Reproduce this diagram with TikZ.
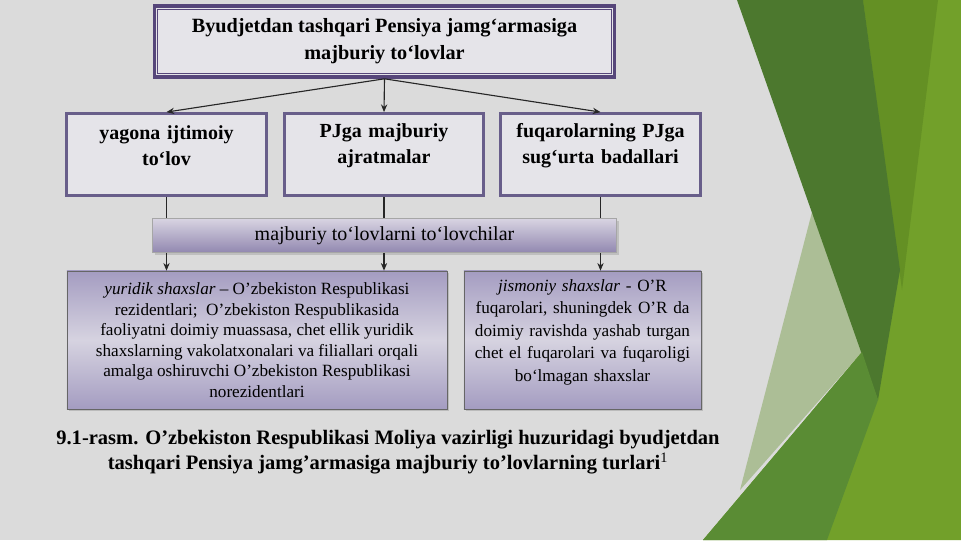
\documentclass[tikz,border=0pt]{standalone}
\usepackage{fontspec}
\setmainfont{Liberation Serif}
\usepackage{xcolor}
\usepackage{tikz}
\usetikzlibrary{
    positioning,
    arrows.meta,
    calc,
    shadows
}
\definecolor{slideGray}{RGB}{219, 219, 219}
\definecolor{boxFill}{RGB}{229, 228, 233}
\definecolor{frameViolet}{RGB}{86, 70, 122}
\definecolor{rowViolet}{RGB}{104, 94, 138}
\definecolor{barTop}{RGB}{216, 212, 226}
\definecolor{barBottom}{RGB}{146, 136, 176}
\definecolor{noteInner}{RGB}{214, 211, 224}
\definecolor{noteEdge}{RGB}{164, 156, 193}
\definecolor{leafDark}{RGB}{76, 120, 46}
\definecolor{leafOlive}{RGB}{100, 144, 36}
\definecolor{leafBright}{RGB}{114, 160, 42}
\definecolor{leafMid}{RGB}{90, 140, 52}
\definecolor{leafPale}{RGB}{172, 190, 150}

\begin{document}
\begin{tikzpicture}[x=0.025cm, y=-0.025cm, >={Stealth[length=5.5pt, width=4.5pt]},
        headbox/.style={draw=frameViolet, line width=2.4pt, fill=boxFill,
            minimum width=11.5cm, minimum height=1.78cm, align=center,
            font=\fontsize{14.4}{19}\selectfont\bfseries},
        rowbox/.style={draw=rowViolet, line width=2pt, fill=boxFill,
            minimum width=4.9cm, minimum height=2.05cm, text width=4.75cm, align=center,
            font=\fontsize{14.2}{18.4}\selectfont\bfseries, lift=13pt},
        notebox/.style={draw=gray!80!black, top color=noteEdge, bottom color=noteEdge,
            middle color=noteInner,
            drop shadow={opacity=0.35, shadow xshift=1.5pt, shadow yshift=-1.5pt},
            minimum height=3.45cm, align=center, font=\fontsize{12.2}{14.6}\selectfont},
        lift/.style={execute at end node={\endgraf\vspace{#1}}},
        link/.style={thick, black!85}
    ]
        \useasboundingbox (0,0) rectangle (961,540);
        % Slide background
        \fill[slideGray] (0,0) rectangle (961,540);
        \fill[leafPale] (812,212) -- (862,352) -- (740,490) -- cycle;
        \fill[leafBright] (863,0) -- (961,0) -- (961,540) -- (703,540) -- (862,352) -- cycle;
        \fill[leafOlive] (863,0) -- (938,0) -- (902,290) -- cycle;
        \fill[leafDark] (737,0) -- (863,0) -- (900,270) -- (878,400) -- cycle;
        \fill[leafMid] (862,352) -- (878,400) -- (827,540) -- (703,540) -- cycle;

        % Header
        \node[headbox] (head) at (384.5,41.5)
            {Byudjetdan tashqari Pensiya jamg‘armasiga\\majburiy to‘lovlar};
        \draw[frameViolet, line width=0.8pt] ([shift={(3.6pt,-3.6pt)}]head.north west)
            rectangle ([shift={(-3.6pt,3.6pt)}]head.south east);

        % Kinds of payments
        \node[rowbox] (yagona) at (166.5,154.5) {yagona ijtimoiy\\to‘lov};
        \node[rowbox] (ajrat) at (384,154.5) {PJga majburiy\\ajratmalar};
        \node[rowbox] (badal) at (600.5,154.5) {fuqarolarning PJga\\sug‘urta badallari};
        \draw[->, link] (head.south) -- (yagona.north);
        \draw[->, link] (head.south) -- (ajrat.north);
        \draw[->, link] (head.south) -- (badal.north);

        % Payers
        \node[draw=gray!70, top color=barTop, bottom color=barBottom,
            drop shadow={opacity=0.3, shadow xshift=1.5pt, shadow yshift=-1.5pt},
            minimum width=11.6cm, minimum height=0.85cm,
            font=\fontsize{14.2}{16}\selectfont] (payers) at (384.5,235.5)
            {majburiy to‘lovlarni to‘lovchilar};
        \draw[link] (yagona.south) -- (yagona.south |- payers.north);
        \draw[link] (ajrat.south) -- (ajrat.south |- payers.north);
        \draw[link] (badal.south) -- (badal.south |- payers.north);

        \node[notebox, minimum width=9.5cm] (legal) at (257,340)
            {\textit{yuridik shaxslar} – O’zbekiston Respublikasi\\
            rezidentlari;~~O’zbekiston Respublikasida\\
            faoliyatni doimiy muassasa, chet ellik yuridik\\
            shaxslarning vakolatxonalari va filiallari orqali\\
            amalga oshiruvchi O’zbekiston Respublikasi\\
            norezidentlari};
        \node[notebox, minimum width=5.85cm, text width=5.7cm, lift=11pt,
            font=\fontsize{12.2}{16}\selectfont] (natural) at (582.5,340)
            {\textit{jismoniy shaxslar} - O’R\\
            fuqarolari, shuningdek O’R da\\
            doimiy ravishda yashab turgan\\
            chet el fuqarolari va fuqaroligi\\
            bo‘lmagan shaxslar};
        \draw[->, link] (payers.south -| yagona) -- (yagona |- legal.north);
        \draw[->, link] (payers.south -| ajrat) -- (ajrat |- legal.north);
        \draw[->, link] (payers.south -| badal) -- (badal |- natural.north);

        \node[align=center, font=\fontsize{14.6}{17.8}\selectfont\bfseries] (caption) at (388,452)
            {9.1-rasm. O’zbekiston Respublikasi Moliya vazirligi huzuridagi byudjetdan\\
            tashqari Pensiya jamg’armasiga majburiy to’lovlarning turlari\textsuperscript{\mdseries 1}};
    \end{tikzpicture}
\end{document}
